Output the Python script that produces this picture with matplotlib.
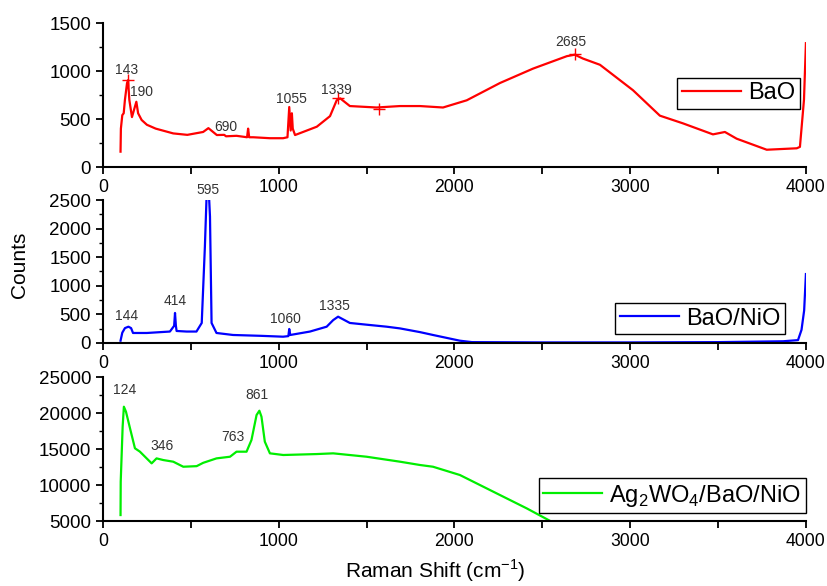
import numpy as np
import matplotlib
matplotlib.use("Agg")
import matplotlib.pyplot as plt
from matplotlib.ticker import MultipleLocator

plt.rcParams['font.family'] = ['Liberation Sans', 'DejaVu Sans']
plt.rcParams['mathtext.fontset'] = 'custom'
plt.rcParams['mathtext.rm'] = 'Liberation Sans'

# BaO spectrum
bao_x = [100, 102, 110, 118, 125, 137, 143, 150, 165, 190, 200, 220, 250, 300, 400, 480,
         570, 600, 648, 690, 700, 760, 820, 826, 832, 855, 950, 1025, 1050, 1060, 1068,
         1075, 1080, 1093, 1217, 1292, 1330, 1350, 1405, 1557, 1690, 1804, 1935, 2070,
         2259, 2447, 2640, 2685, 2731, 2828, 3016, 3169, 3300, 3471, 3539, 3606, 3777,
         3948, 3966, 3989, 4000]
bao_y = [160, 400, 540, 560, 700, 875, 905, 700, 520, 680, 560, 490, 440, 400, 350, 335,
         365, 405, 333, 335, 320, 325, 310, 400, 310, 310, 300, 300, 310, 625, 380,
         560, 400, 333, 420, 530, 695, 715, 635, 620, 635, 635, 620, 695,
         875, 1025, 1155, 1170, 1130, 1065, 800, 535, 455, 340, 365, 295, 180,
         195, 210, 700, 1290]

# BaO/NiO spectrum
nio_x = [100, 110, 125, 145, 160, 171, 250, 381, 405, 410, 415, 419, 476, 532, 562, 580,
         590, 603, 609, 618, 646, 740, 900, 1025, 1055, 1060, 1066, 1178, 1273, 1310,
         1338, 1405, 1500, 1614, 1690, 1804, 1878, 2031, 2100, 2500, 3000, 3500, 3870,
         3955, 3975, 3990, 4000]
nio_y = [40, 180, 260, 285, 260, 175, 175, 200, 300, 525, 300, 210, 200, 200, 350, 1685,
         2600, 2600, 2210, 350, 175, 140, 125, 110, 120, 245, 140, 200, 285, 400,
         460, 350, 320, 285, 255, 190, 140, 40, 15, 10, 10, 15, 30,
         50, 230, 570, 1205]

# Ag2WO4/BaO/NiO spectrum
ag_x = [100, 101, 112, 119, 131, 154, 182, 210, 277, 305, 343, 400, 457, 533, 570, 646,
        723, 760, 817, 845, 874, 890, 902, 921, 950, 1026, 1216, 1310, 1500, 1690, 1804,
        1878, 2031, 2145, 2259, 2411, 2553]
ag_y = [5830, 10460, 18100, 20880, 20180, 17870, 15100, 14640, 13010, 13700, 13470, 13240,
        12540, 12620, 13080, 13700, 13930, 14630, 14630, 16250, 19720, 20320, 19490, 16020,
        14400, 14170, 14300, 14400, 13930, 13240, 12780, 12540, 11390, 10000, 8610, 6760, 4900]

# peak labels (text, x, y)
bao_labels = [("143", 137, 1010), ("190", 222, 780), ("690", 700, 415),
              ("1055", 1070, 710), ("1339", 1331, 800), ("2685", 2663, 1300)]
bao_marks_x = [143, 1339, 1570, 2685]
bao_marks_y = [905, 720, 600, 1175]
nio_labels = [("144", 137, 470), ("414", 410, 735), ("595", 597, 2675),
              ("1060", 1036, 420), ("1335", 1320, 645)]
ag_labels = [("124", 125, 23200), ("346", 336, 15420), ("763", 740, 16670),
             ("861", 876, 22500)]

fig = plt.figure(figsize=(8.27, 5.86), dpi=100)
left, width = 0.1245, 0.850
ax1 = fig.add_axes([left, 0.7150, width, 0.2457])
ax2 = fig.add_axes([left, 0.4147, width, 0.2440])
ax3 = fig.add_axes([left, 0.1109, width, 0.2457])

panels = [
    (ax1, bao_x, bao_y, '#ff0000', 'BaO', (0, 1500), 500, 250, bao_labels, (0.991, 0.62)),
    (ax2, nio_x, nio_y, '#0000ff', 'BaO/NiO', (0, 2500), 500, 250, nio_labels, (0.970, 0.28)),
    (ax3, ag_x, ag_y, '#00ee00', r'Ag$_2$WO$_4$/BaO/NiO', (5000, 25000), 5000, 2500, ag_labels, (1.0, 0.30)),
]

for ax, x, y, c, name, ylim, maj, mnr, labels, loc in panels:
    ax.plot(x, y, color=c, lw=1.6, label=name)
    ax.set_xlim(0, 4000)
    ax.set_ylim(*ylim)
    ax.xaxis.set_major_locator(MultipleLocator(1000))
    ax.xaxis.set_minor_locator(MultipleLocator(500))
    ax.yaxis.set_major_locator(MultipleLocator(maj))
    ax.yaxis.set_minor_locator(MultipleLocator(mnr))
    for s in ['top', 'right']:
        ax.spines[s].set_visible(False)
    for s in ['left', 'bottom']:
        ax.spines[s].set_linewidth(1.5)
    ax.tick_params(which='major', direction='out', length=5, width=1.3)
    ax.tick_params(axis='x', labelsize=12.7)
    ax.tick_params(axis='y', labelsize=13.5)
    ax.tick_params(which='minor', direction='out', length=3, width=1.0)
    ax.tick_params(axis='x', which='minor', length=5, width=1.3)
    for t, tx, ty in labels:
        ax.text(tx, ty, t, ha='center', va='center', fontsize=10, color='#333333', clip_on=False)
    leg = ax.legend(loc='upper right', bbox_to_anchor=loc, fontsize=17, handlelength=2.5,
                    fancybox=False, framealpha=1, borderpad=0.2, handletextpad=0.3,
                    borderaxespad=0)
    leg.get_frame().set_edgecolor('black')
    leg.get_frame().set_linewidth(1.0)

ax1.plot(bao_marks_x, bao_marks_y, '+', color='#ff0000', ms=8, mew=1.0)

fig.text(0.024, 0.548, 'Counts', rotation=90, ha='center', va='center', fontsize=15)
fig.text(0.526, 0.026, 'Raman Shift (cm$^{-1}$)', ha='center', va='center', fontsize=15)

fig.savefig('out.png', dpi=100)
